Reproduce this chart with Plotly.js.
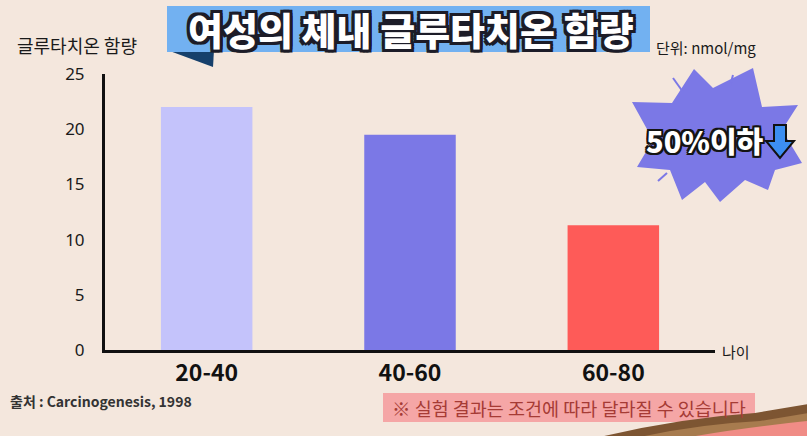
<!DOCTYPE html>
<html>
<head>
<meta charset="utf-8">
<script src="https://cdn.plot.ly/plotly-3.0.1.min.js"></script>
<style>
  html, body { margin: 0; padding: 0; background: #f4e7dd; }
  #chart { width: 807px; height: 436px; }
</style>
</head>
<body>
<div id="chart"></div>
<script>
// Age groups and glutathione content (nmol/mg).
const ageGroups = ['20-40', '40-60', '60-80'];
const glutathione = [22.0, 19.5, 11.3];
const barColors = ['#c4c3fb', '#7b78e6', '#fe5b58'];
const yTicks = [0, 5, 10, 15, 20, 25];

// Plot area in pixels, used to place the decorations.
const L = 105, R = 715, T = 74, B = 350;
const px = x => (x - L) / (R - L);
const py = y => (B - y) / (B - T);
const toPath = pts => 'M ' + pts.map(p => px(p[0]) + ',' + py(p[1])).join(' L ') + ' Z';

// Fake a text outline with stacked shadows.
const outline = (c, w) => [
  `-${w}px -${w}px 0 ${c}`, `${w}px -${w}px 0 ${c}`, `-${w}px ${w}px 0 ${c}`, `${w}px ${w}px 0 ${c}`,
  `0 -${w}px 0 ${c}`, `0 ${w}px 0 ${c}`, `-${w}px 0 0 ${c}`, `${w}px 0 0 ${c}`
].join(', ');

// Starburst outline around the "50%이하" badge.
const burst = [
  [694, 69], [713, 88], [753, 68], [762, 107], [798, 105], [782, 130],
  [802, 163], [775, 170], [768, 190], [745, 180], [720, 202], [705, 182],
  [682, 200], [670, 170], [637, 167], [653, 140], [632, 102], [672, 103]
];

// Blue down arrow next to the badge text.
const arrow = [
  [774, 125], [786, 125], [786, 141], [794, 141], [780, 158], [766, 141], [774, 141]
];

const traces = [{
  type: 'bar',
  x: ageGroups,
  y: glutathione,
  marker: { color: barColors, line: { width: 0 } },
  width: 0.45,
  hoverinfo: 'x+y'
}];

const layout = {
  width: 807,
  height: 436,
  margin: { l: L, r: 807 - R, t: T, b: 436 - B },
  paper_bgcolor: '#f4e7dd',
  plot_bgcolor: 'rgba(0,0,0,0)',
  showlegend: false,
  xaxis: {
    range: [-0.5, 2.5],
    showline: true, linecolor: '#111', linewidth: 3,
    showgrid: false, zeroline: false, ticks: '',
    ticklabelstandoff: 0,
    tickfont: { family: 'Noto Sans CJK KR, Noto Sans', size: 23, color: '#111', weight: 'bold' }
  },
  yaxis: {
    range: [0, 25],
    tickvals: yTicks,
    showline: true, linecolor: '#111', linewidth: 3,
    showgrid: false, zeroline: false, ticks: '',
    ticklabelstandoff: 14,
    tickfont: { family: 'Noto Sans, Open Sans', size: 17, color: '#1a1a1a' }
  },
  shapes: [
    // title banner
    { type: 'path', xref: 'paper', yref: 'paper', line: { width: 0 }, fillcolor: '#16406b',
      path: toPath([[167, 50], [214, 50], [213, 67]]) },
    { type: 'rect', xref: 'paper', yref: 'paper', line: { width: 0 }, fillcolor: '#72b1f1',
      x0: px(167), x1: px(650), y0: py(52), y1: py(6) },
    // starburst
    { type: 'path', xref: 'paper', yref: 'paper', line: { width: 0 }, fillcolor: '#7b78e6',
      path: toPath(burst) },
    { type: 'line', xref: 'paper', yref: 'paper', line: { color: '#7b78e6', width: 2 },
      x0: px(673), y0: py(78), x1: px(683), y1: py(92) },
    { type: 'line', xref: 'paper', yref: 'paper', line: { color: '#7b78e6', width: 2 },
      x0: px(733), y0: py(75), x1: px(730), y1: py(86) },
    { type: 'line', xref: 'paper', yref: 'paper', line: { color: '#7b78e6', width: 2 },
      x0: px(658), y0: py(181), x1: px(667), y1: py(173) },
    { type: 'path', xref: 'paper', yref: 'paper', line: { color: '#111', width: 2 }, fillcolor: '#3c8ef0',
      path: toPath(arrow) },
    // note box
    { type: 'rect', xref: 'paper', yref: 'paper', line: { width: 0 }, fillcolor: '#f5a6a6',
      x0: px(383), x1: px(755), y0: py(422), y1: py(393) },
    // bottom-right swoosh
    { type: 'path', xref: 'paper', yref: 'paper', line: { width: 0 }, fillcolor: '#7d5532',
      path: `M ${px(600)},${py(437)} Q ${px(680)},${py(418)} ${px(755)},${py(413)} L ${px(808)},${py(404)} L ${px(808)},${py(437)} Z` },
    { type: 'path', xref: 'paper', yref: 'paper', line: { width: 0 }, fillcolor: '#a77b4e',
      path: `M ${px(640)},${py(437)} Q ${px(700)},${py(424)} ${px(760)},${py(421)} L ${px(808)},${py(413)} L ${px(808)},${py(437)} Z` },
    { type: 'path', xref: 'paper', yref: 'paper', line: { width: 0 }, fillcolor: '#f08c86',
      path: `M ${px(690)},${py(437)} Q ${px(740)},${py(428)} ${px(808)},${py(421)} L ${px(808)},${py(437)} Z` }
  ],
  annotations: [
    { text: '여성의 체내 글루타치온 함량', xref: 'paper', yref: 'paper',
      x: px(411), y: py(29), xanchor: 'center', yanchor: 'middle', showarrow: false,
      font: { family: 'Noto Sans CJK KR', size: 38, color: '#ffffff', weight: 900, shadow: outline('#1c1c28', 3) } },
    { text: '글루타치온 함량', xref: 'paper', yref: 'paper',
      x: px(77), y: py(45), xanchor: 'center', yanchor: 'middle', showarrow: false,
      font: { family: 'Noto Sans CJK KR', size: 18, color: '#1a1a1a' } },
    { text: '단위: nmol/mg', xref: 'paper', yref: 'paper',
      x: px(654), y: py(47), xanchor: 'left', yanchor: 'middle', showarrow: false,
      font: { family: 'Noto Sans CJK KR', size: 15, color: '#1a1a1a' } },
    { text: '나이', xref: 'paper', yref: 'paper',
      x: px(720), y: py(351), xanchor: 'left', yanchor: 'middle', showarrow: false,
      font: { family: 'Noto Sans CJK KR', size: 15, color: '#1a1a1a' } },
    { text: '50%이하', xref: 'paper', yref: 'paper',
      x: px(705), y: py(140), xanchor: 'center', yanchor: 'middle', showarrow: false,
      font: { family: 'Noto Sans CJK KR', size: 29, color: '#ffffff', weight: 900, shadow: outline('#141414', 2) } },
    { text: '출처 : Carcinogenesis, 1998', xref: 'paper', yref: 'paper',
      x: px(8), y: py(401), xanchor: 'left', yanchor: 'middle', showarrow: false,
      font: { family: 'Noto Sans CJK KR', size: 14, color: '#333333', weight: 'bold' } },
    { text: '※ 실험 결과는 조건에 따라 달라질 수 있습니다', xref: 'paper', yref: 'paper',
      x: px(569), y: py(408), xanchor: 'center', yanchor: 'middle', showarrow: false,
      font: { family: 'Noto Sans CJK KR', size: 18.5, color: '#a63b35' } }
  ]
};

Plotly.newPlot('chart', traces, layout, { displayModeBar: false, staticPlot: true });
</script>
</body>
</html>
